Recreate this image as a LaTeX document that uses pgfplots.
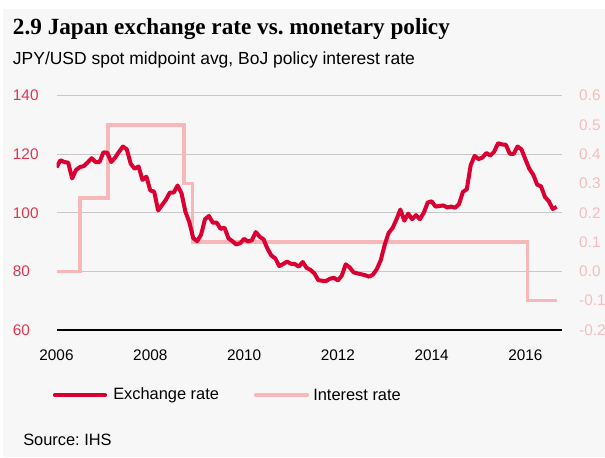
\documentclass[border=0pt]{standalone}
\usepackage{fontspec}
\setmainfont{Liberation Sans}
\newfontfamily\titlefont{Liberation Serif}
\usepackage{pgfplots}
\pgfplotsset{compat=1.18}

\definecolor{bgc}{HTML}{F7F7F7}
\definecolor{fxred}{HTML}{DA0032}
\definecolor{tickred}{HTML}{E2334F}
\definecolor{irpink}{HTML}{F6B8B8}
\definecolor{irtick}{HTML}{F5BDBD}
\definecolor{gridc}{HTML}{C8C8C8}

\begin{document}
\frenchspacing
\begin{tikzpicture}[x=0.75pt,y=0.75pt]
\fill[white] (0,0) rectangle (605,457);
\fill[bgc] (3,0) rectangle (605,448);

% title block
\node[anchor=base west,inner sep=0] at (12.7,422) {\titlefont\bfseries\fontsize{17.4}{19}\selectfont 2.9 Japan exchange rate vs. monetary policy};
\node[anchor=base west,inner sep=0] at (12.7,392) {\fontsize{13.1}{15}\selectfont JPY/USD spot midpoint avg, BoJ policy interest rate};

% interest rate (right axis)
\begin{axis}[
  at={(42.375pt,95.25pt)}, anchor=south west,
  scale only axis, width=379.1pt, height=175.9pt,
  xmin=2006, xmax=2016.78, ymin=-0.2, ymax=0.6,
  hide x axis,
  axis y line*=right, y axis line style={draw=none},
  ytick={-0.2,-0.1,0,0.1,0.2,0.3,0.4,0.5,0.6},
  yticklabels={-0.2,-0.1,0.0,0.1,0.2,0.3,0.4,0.5,0.6},
  major tick length=0,
  yticklabel style={anchor=west,inner sep=0,xshift=12.75pt,text=irtick,font=\fontsize{11.5}{13}\selectfont},
  extra y ticks={0,0.2,0.4,0.6}, extra y tick labels={},
  extra y tick style={grid=major},
  grid style={gridc,line width=0.7pt},
]
\addplot[const plot, irpink, line width=2.6pt] coordinates {
(2006,0) (2006.5,0.25) (2007.1,0.5) (2008.72,0.3) (2008.9,0.1) (2016.05,-0.1) (2016.67,-0.1)};
\end{axis}

% exchange rate (left axis)
\begin{axis}[
  at={(42.375pt,95.25pt)}, anchor=south west,
  scale only axis, width=379.1pt, height=175.9pt,
  xmin=2006, xmax=2016.78, ymin=60, ymax=140,
  axis x line*=bottom, axis y line*=left,
  y axis line style={draw=none},
  x axis line style={black,line width=1.1pt,-},
  xtick={2006,2008,2010,2012,2014,2016},
  xticklabels={2006,2008,2010,2012,2014,2016},
  ytick={60,80,100,120,140},
  yticklabels={60,80,100,120,140},
  major tick length=0,
  xticklabel style={anchor=base,yshift=-22.6pt,font=\fontsize{11.5}{13}\selectfont},
  yticklabel style={anchor=west,inner sep=0,xshift=-32.85pt,text=tickred,font=\fontsize{11.5}{13}\selectfont},
]
\addplot[fxred, line width=3pt, line join=round] coordinates {
(2006.000,115.5) (2006.083,117.9) (2006.167,117.3) (2006.250,117.1) (2006.333,111.7) (2006.417,114.6)
(2006.500,115.6) (2006.583,115.9) (2006.667,117.2) (2006.750,118.6) (2006.833,117.3) (2006.917,117.3)
(2007.000,120.6) (2007.083,120.5) (2007.167,117.3) (2007.250,118.8) (2007.333,120.8) (2007.417,122.6)
(2007.500,121.6) (2007.583,116.7) (2007.667,115.0) (2007.750,115.8) (2007.833,111.2) (2007.917,112.3)
(2008.000,107.6) (2008.083,107.2) (2008.167,100.8) (2008.250,102.6) (2008.333,104.4) (2008.417,106.9)
(2008.500,106.9) (2008.583,109.3) (2008.667,106.6) (2008.750,100.3) (2008.833,96.8) (2008.917,91.3)
(2009.000,90.3) (2009.083,92.5) (2009.167,97.8) (2009.250,98.9) (2009.333,96.6) (2009.417,96.6)
(2009.500,94.5) (2009.583,94.9) (2009.667,91.3) (2009.750,90.3) (2009.833,89.2) (2009.917,89.6)
(2010.000,91.1) (2010.083,90.2) (2010.167,90.6) (2010.250,93.4) (2010.333,91.8) (2010.417,90.9)
(2010.500,87.7) (2010.583,85.4) (2010.667,84.4) (2010.750,81.8) (2010.833,82.5) (2010.917,83.3)
(2011.000,82.6) (2011.083,82.5) (2011.167,81.6) (2011.250,83.2) (2011.333,81.2) (2011.417,80.5)
(2011.500,79.3) (2011.583,77.0) (2011.667,76.8) (2011.750,76.7) (2011.833,77.5) (2011.917,77.8)
(2012.000,76.9) (2012.083,78.5) (2012.167,82.4) (2012.250,81.4) (2012.333,79.7) (2012.417,79.3)
(2012.500,79.0) (2012.583,78.7) (2012.667,78.2) (2012.750,78.9) (2012.833,80.8) (2012.917,83.9)
(2013.000,89.1) (2013.083,93.1) (2013.167,94.8) (2013.250,97.7) (2013.333,101.1) (2013.417,97.3)
(2013.500,99.7) (2013.583,97.8) (2013.667,99.2) (2013.750,97.8) (2013.833,100.0) (2013.917,103.5)
(2014.000,103.9) (2014.083,102.1) (2014.167,102.3) (2014.250,102.5) (2014.333,101.8) (2014.417,102.1)
(2014.500,101.7) (2014.583,102.9) (2014.667,107.1) (2014.750,108.0) (2014.833,116.2) (2014.917,119.4)
(2015.000,118.3) (2015.083,118.8) (2015.167,120.4) (2015.250,119.5) (2015.333,120.8) (2015.417,123.7)
(2015.500,123.3) (2015.583,123.2) (2015.667,120.1) (2015.750,120.1) (2015.833,122.6) (2015.917,121.6)
(2016.000,118.2) (2016.083,115.0) (2016.167,113.0) (2016.250,109.6) (2016.333,109.0) (2016.417,105.4)
(2016.500,103.9) (2016.583,101.3) (2016.667,102.0)};
\end{axis}

% legend
\draw[fxred,line width=3.2pt,line cap=round] (55,62) -- (105,62);
\node[anchor=west,inner sep=0] at (113,62) {\fontsize{12.3}{14}\selectfont Exchange rate};
\draw[irpink,line width=3.2pt,line cap=round] (256,62) -- (307,62);
\node[anchor=west,inner sep=0] at (313,62) {\fontsize{12.3}{14}\selectfont Interest rate};

% source
\node[anchor=base west,inner sep=0] at (23,12) {\fontsize{12.3}{14}\selectfont Source: IHS};

\pgfresetboundingbox
\path[use as bounding box] (0,0) rectangle (605,457);
\end{tikzpicture}
\end{document}
